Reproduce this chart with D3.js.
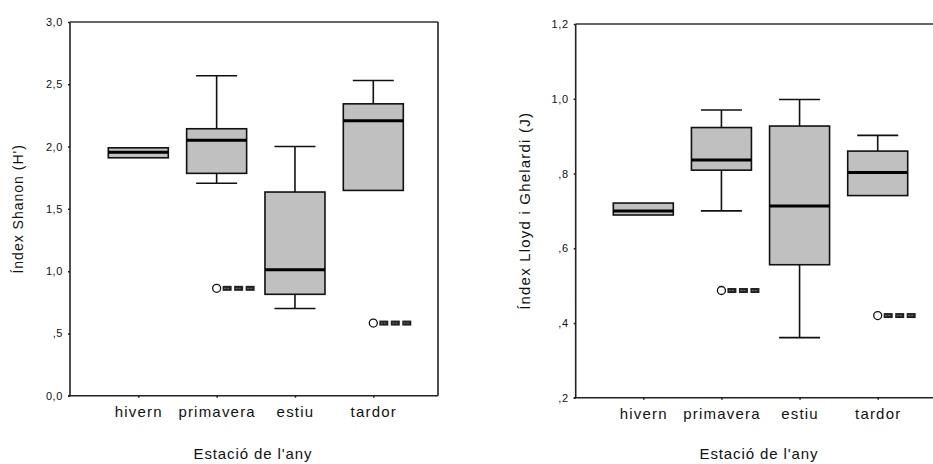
<!DOCTYPE html>
<html>
<head>
<meta charset="utf-8">
<script src="https://cdn.jsdelivr.net/npm/d3@7"></script>
<style>
  html, body { margin: 0; padding: 0; background: #fff; }
  svg { display: block; }
  text { font-family: "Liberation Sans", Arial, sans-serif; fill: #111; }
</style>
</head>
<body>
<svg id="chart" width="933" height="464"></svg>
<script>
// ---------- data ----------
const categories = ["hivern", "primavera", "estiu", "tardor"];

// Shannon index (H'): whisker low, Q1, median, Q3, whisker high
const shannonLow    = [1.91, 1.705, 0.70, 1.648];
const shannonQ1     = [1.91, 1.785, 0.814, 1.648];
const shannonMedian = [1.955, 2.05, 1.011, 2.207];
const shannonQ3     = [1.99, 2.143, 1.635, 2.343];
const shannonHigh   = [1.99, 2.568, 2.0, 2.53];
const shannonOutliers = [{cat: "primavera", v: 0.862}, {cat: "tardor", v: 0.583}];
const shannonTicks  = [0, 0.5, 1, 1.5, 2, 2.5, 3];
const shannonTickLabels = ["0,0", ",5", "1,0", "1,5", "2,0", "2,5", "3,0"];

// Lloyd i Ghelardi index (J)
const lloydLow    = [0.689, 0.70, 0.361, 0.741];
const lloydQ1     = [0.689, 0.809, 0.556, 0.741];
const lloydMedian = [0.70, 0.836, 0.713, 0.803];
const lloydQ3     = [0.721, 0.923, 0.927, 0.86];
const lloydHigh   = [0.721, 0.970, 0.998, 0.902];
const lloydOutliers = [{cat: "primavera", v: 0.487}, {cat: "tardor", v: 0.42}];
const lloydTicks  = [0.2, 0.4, 0.6, 0.8, 1.0, 1.2];
const lloydTickLabels = [",2", ",4", ",6", ",8", "1,0", "1,2"];

// ---------- drawing ----------
const svg = d3.select("#chart");

function panel(cfg) {
  const g = svg.append("g");
  const x = d3.scalePoint().domain(categories).range([cfg.x0 + cfg.inset0, cfg.x1 - cfg.inset1]);
  const y = d3.scaleLinear().domain(cfg.domain).range([cfg.yBottom, cfg.yTop]);

  // frame
  const frameColor = "#222";
  g.append("line").attr("x1", cfg.x0).attr("x2", cfg.frameRight).attr("y1", cfg.yTop).attr("y2", cfg.yTop)
    .attr("stroke", "#333").attr("stroke-width", 1.6);
  g.append("line").attr("x1", cfg.x0 - 2).attr("x2", cfg.frameRight).attr("y1", cfg.yBottom).attr("y2", cfg.yBottom)
    .attr("stroke", frameColor).attr("stroke-width", 1.6);
  g.append("line").attr("x1", cfg.x0).attr("x2", cfg.x0).attr("y1", cfg.yTop).attr("y2", cfg.yBottom)
    .attr("stroke", frameColor).attr("stroke-width", 1.6);
  if (cfg.closeRight) {
    g.append("line").attr("x1", cfg.x1).attr("x2", cfg.x1).attr("y1", cfg.yTop).attr("y2", cfg.yBottom)
      .attr("stroke", frameColor).attr("stroke-width", 1.6);
  }

  // y axis
  const yAxis = d3.axisLeft(y).tickValues(cfg.ticks)
    .tickFormat((d, i) => cfg.tickLabels[i]).tickSize(2).tickPadding(5);
  const ya = g.append("g").attr("transform", `translate(${cfg.x0},0)`).call(yAxis);
  ya.select(".domain").remove();
  ya.selectAll("line").attr("stroke", "#222").attr("stroke-width", 1.5);
  ya.selectAll("text").attr("font-size", 11).attr("letter-spacing", "0.6px")
    .style("font-family", "'Liberation Sans', Arial, sans-serif").attr("fill", "#111");

  // x axis
  const xAxis = d3.axisBottom(x).tickSize(2).tickPadding(8.5);
  const xa = g.append("g").attr("transform", `translate(0,${cfg.yBottom})`).call(xAxis);
  xa.select(".domain").remove();
  xa.selectAll("line").attr("stroke", "#222").attr("stroke-width", 1.5);
  xa.selectAll("text").attr("font-size", 15).attr("letter-spacing", "1.2px")
    .style("font-family", "'Liberation Sans', Arial, sans-serif").attr("fill", "#111");

  // boxes
  const boxW = 60, capW = 41;
  const d = categories.map((c, i) => ({
    c, lo: cfg.low[i], q1: cfg.q1[i], med: cfg.med[i], q3: cfg.q3[i], hi: cfg.high[i]
  }));
  const bg = g.selectAll(".box").data(d).join("g").attr("class", "box");
  // whiskers
  bg.filter(b => b.hi > b.q3).append("line")
    .attr("x1", b => x(b.c)).attr("x2", b => x(b.c)).attr("y1", b => y(b.q3)).attr("y2", b => y(b.hi))
    .attr("stroke", "#111").attr("stroke-width", 1.6);
  bg.filter(b => b.hi > b.q3).append("line")
    .attr("x1", b => x(b.c) - capW / 2).attr("x2", b => x(b.c) + capW / 2).attr("y1", b => y(b.hi)).attr("y2", b => y(b.hi))
    .attr("stroke", "#111").attr("stroke-width", 1.6);
  bg.filter(b => b.lo < b.q1).append("line")
    .attr("x1", b => x(b.c)).attr("x2", b => x(b.c)).attr("y1", b => y(b.q1)).attr("y2", b => y(b.lo))
    .attr("stroke", "#111").attr("stroke-width", 1.6);
  bg.filter(b => b.lo < b.q1).append("line")
    .attr("x1", b => x(b.c) - capW / 2).attr("x2", b => x(b.c) + capW / 2).attr("y1", b => y(b.lo)).attr("y2", b => y(b.lo))
    .attr("stroke", "#111").attr("stroke-width", 1.6);
  // box
  bg.append("rect")
    .attr("x", b => x(b.c) - boxW / 2).attr("width", boxW)
    .attr("y", b => y(b.q3)).attr("height", b => y(b.q1) - y(b.q3))
    .attr("fill", "#c0c0c0").attr("stroke", "#111").attr("stroke-width", 1.6);
  // median
  bg.append("line")
    .attr("x1", b => x(b.c) - boxW / 2).attr("x2", b => x(b.c) + boxW / 2)
    .attr("y1", b => y(b.med)).attr("y2", b => y(b.med))
    .attr("stroke", "#000").attr("stroke-width", 3);

  // outliers
  const og = g.selectAll(".out").data(cfg.outliers).join("g").attr("class", "out")
    .attr("transform", o => `translate(${x(o.cat)},${y(o.v)})`);
  og.append("circle").attr("r", 4).attr("fill", "#fff").attr("stroke", "#111").attr("stroke-width", 1.3);
  [0, 1, 2].forEach(k => {
    og.append("rect").attr("x", 6 + k * 11.5).attr("y", -2.5).attr("width", 9).attr("height", 5)
      .attr("fill", "#222");
    og.append("line").attr("x1", 7.5 + k * 11.5).attr("x2", 13.5 + k * 11.5).attr("y1", 0).attr("y2", 0)
      .attr("stroke", "#888").attr("stroke-width", 0.8).attr("stroke-dasharray", "2,1");
  });

  // titles
  g.append("text")
    .attr("transform", `translate(${cfg.yTitleX},${(cfg.yTop + cfg.yBottom) / 2}) rotate(-90)`)
    .attr("text-anchor", "middle").attr("font-size", cfg.yTitleSize).attr("letter-spacing", cfg.yTitleSpacing)
    .text(cfg.yTitle);
  g.append("text")
    .attr("x", cfg.xTitleX).attr("y", 459)
    .attr("text-anchor", "middle").attr("font-size", 15).attr("letter-spacing", "0.9px")
    .text("Estació de l'any");
}

panel({
  x0: 70, x1: 438, frameRight: 438, closeRight: true, inset0: 68.3, inset1: 64.7,
  yTop: 22, yBottom: 395.7, domain: [0, 3],
  ticks: shannonTicks, tickLabels: shannonTickLabels,
  low: shannonLow, q1: shannonQ1, med: shannonMedian, q3: shannonQ3, high: shannonHigh,
  outliers: shannonOutliers,
  yTitle: "Índex Shanon (H')", yTitleX: 23, yTitleSize: 14, yTitleSpacing: "1px",
  xTitleX: 253
});

panel({
  x0: 575.7, x1: 946, frameRight: 933, closeRight: false, inset0: 67.6, inset1: 68.3,
  yTop: 24, yBottom: 397.8, domain: [0.2, 1.2],
  ticks: lloydTicks, tickLabels: lloydTickLabels,
  low: lloydLow, q1: lloydQ1, med: lloydMedian, q3: lloydQ3, high: lloydHigh,
  outliers: lloydOutliers,
  yTitle: "Índex Lloyd i Ghelardi (J)", yTitleX: 530, yTitleSize: 15, yTitleSpacing: "1.2px",
  xTitleX: 759
});
</script>
</body>
</html>
